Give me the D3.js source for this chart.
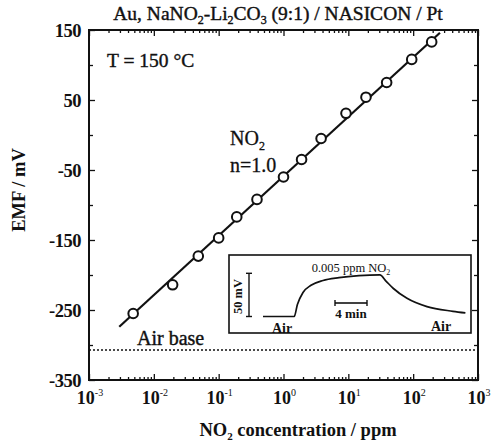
<!DOCTYPE html>
<html>
<head>
<meta charset="utf-8">
<script src="https://cdn.jsdelivr.net/npm/d3@7"></script>
<style>
  body { margin: 0; background: #fff; }
  svg text { font-family: "Liberation Serif", "DejaVu Serif", serif; fill: #111; }
</style>
</head>
<body>
<div id="chart"></div>
<script>
// measured points: NO2 concentration (ppm) and EMF (mV)
const concentration = [0.0048, 0.0195, 0.0485, 0.1, 0.19, 0.39, 1.0, 1.9, 3.8, 9.2, 18.7, 39, 95, 193];
const emf = [-255, -214, -173, -147, -117, -92, -60, -35, -5, 31, 54, 75, 108, 133];

// fitted line end points (n = 1.0)
const fitConc = [0.00293, 259];
const fitEmf = [-274, 146];

const airBase = -307;

const xTicks = [1e-3, 1e-2, 1e-1, 1e0, 1e1, 1e2, 1e3];
const xTickExp = ['-3', '-2', '-1', '0', '1', '2', '3'];
const yTicks = [150, 50, -50, -150, -250, -350];

// inset: response transient to 0.005 ppm NO2 (time in min, signal in mV above air)
const insetTime = [0, 3.9, 4.3, 5.0, 6.0, 7.5, 9.5, 12, 14.6, 15.4, 16.3, 18.0, 20.5, 23.75, 25.3];
const insetSignal = [0, 0, 15, 30, 39, 45, 48.5, 51, 52, 44, 35, 22.7, 12.3, 6.5, 4.5];

const W = 501, H = 446;
const margin = { top: 30, right: 23, bottom: 66, left: 89 };
const width = W - margin.left - margin.right;
const height = H - margin.top - margin.bottom;

const svg = d3.select('#chart').append('svg')
  .attr('width', W)
  .attr('height', H);

const g = svg.append('g')
  .attr('transform', `translate(${margin.left},${margin.top})`);

const x = d3.scaleLog().domain([1e-3, 1e3]).range([0, width]);
const y = d3.scaleLinear().domain([-350, 150]).range([height, 0]);

// minor ticks
const minorX = [];
for (let e = -3; e < 3; e++) {
  for (let m = 2; m <= 9; m++) minorX.push(m * Math.pow(10, e));
}
const minorY = d3.range(-300, 150, 100);

function tickAxis(axis, sel, size) {
  sel.call(axis.tickSize(size).tickFormat(''));
  sel.select('.domain').remove();
  sel.selectAll('line').attr('stroke', '#111').attr('stroke-width', 1.3);
}

// inward ticks on all four sides
tickAxis(d3.axisBottom(x).tickValues(xTicks), g.append('g').attr('transform', `translate(0,${height})`), -6);
tickAxis(d3.axisBottom(x).tickValues(minorX), g.append('g').attr('transform', `translate(0,${height})`), -3);
tickAxis(d3.axisTop(x).tickValues(xTicks), g.append('g'), -6);
tickAxis(d3.axisTop(x).tickValues(minorX), g.append('g'), -3);
tickAxis(d3.axisLeft(y).tickValues(yTicks), g.append('g'), -6);
tickAxis(d3.axisLeft(y).tickValues(minorY), g.append('g'), -4);
tickAxis(d3.axisRight(y).tickValues(yTicks), g.append('g').attr('transform', `translate(${width},0)`), -6);
tickAxis(d3.axisRight(y).tickValues(minorY), g.append('g').attr('transform', `translate(${width},0)`), -4);

// frame
g.append('rect')
  .attr('width', width)
  .attr('height', height)
  .attr('fill', 'none')
  .attr('stroke', '#111')
  .attr('stroke-width', 2);

// y tick labels
g.selectAll('.ylab')
  .data(yTicks)
  .enter().append('text')
  .attr('x', -8)
  .attr('y', d => y(d) + 6.5)
  .attr('text-anchor', 'end')
  .attr('font-size', 18.5)
  .attr('font-weight', 'bold')
  .attr('letter-spacing', -0.5)
  .text(d => d);

// x tick labels with exponents
const xl = g.selectAll('.xlab')
  .data(xTicks)
  .enter().append('text')
  .attr('x', (d, i) => x(d) + 1)
  .attr('y', height + 24)
  .attr('text-anchor', 'middle')
  .attr('font-size', 18)
  .attr('font-weight', 'bold');
xl.append('tspan').text('10');
xl.append('tspan')
  .attr('dy', -8)
  .attr('font-size', 10)
  .attr('font-weight', 'normal')
  .text((d, i) => xTickExp[i]);

// axis titles
const xt = svg.append('text')
  .attr('x', 298)
  .attr('y', 436)
  .attr('text-anchor', 'middle')
  .attr('font-size', 18.5)
  .attr('font-weight', 'bold');
xt.append('tspan').text('NO');
xt.append('tspan').attr('dy', 4).attr('font-size', 11).text('2');
xt.append('tspan').attr('dy', -4).text(' concentration / ppm');

svg.append('text')
  .attr('transform', 'translate(25,190) rotate(-90)')
  .attr('text-anchor', 'middle')
  .attr('font-size', 18.5)
  .attr('font-weight', 'bold')
  .text('EMF / mV');

// title
const tt = svg.append('text')
  .attr('x', 278)
  .attr('y', 20)
  .attr('text-anchor', 'middle')
  .attr('font-size', 19.5)
  .attr('stroke', '#111')
  .attr('stroke-width', 0.4);
tt.append('tspan').text('Au, NaNO');
tt.append('tspan').attr('dy', 4).attr('font-size', 12).text('2');
tt.append('tspan').attr('dy', -4).text('-Li');
tt.append('tspan').attr('dy', 4).attr('font-size', 12).text('2');
tt.append('tspan').attr('dy', -4).text('CO');
tt.append('tspan').attr('dy', 4).attr('font-size', 12).text('3');
tt.append('tspan').attr('dy', -4).text(' (9:1) / NASICON / Pt');

// air base dotted line
g.append('line')
  .attr('x1', 0).attr('x2', width)
  .attr('y1', y(airBase)).attr('y2', y(airBase))
  .attr('stroke', '#111')
  .attr('stroke-width', 1.5)
  .attr('stroke-dasharray', '2,2');

g.append('text')
  .attr('x', 48)
  .attr('y', y(airBase) - 5)
  .attr('font-size', 20)
  .attr('stroke', '#111')
  .attr('stroke-width', 0.4)
  .text('Air base');

// fit line
g.append('path')
  .datum(fitConc.map((c, i) => [c, fitEmf[i]]))
  .attr('d', d3.line().x(d => x(d[0])).y(d => y(d[1])))
  .attr('stroke', '#111')
  .attr('stroke-width', 2.2)
  .attr('fill', 'none');

// data points
g.selectAll('.pt')
  .data(concentration)
  .enter().append('circle')
  .attr('cx', d => x(d))
  .attr('cy', (d, i) => y(emf[i]))
  .attr('r', 4.8)
  .attr('fill', '#fff')
  .attr('stroke', '#111')
  .attr('stroke-width', 2);

// annotations
g.append('text')
  .attr('x', 18)
  .attr('y', 37)
  .attr('font-size', 19.5)
  .attr('stroke', '#111')
  .attr('stroke-width', 0.4)
  .text('T = 150 °C');

const no2 = g.append('text')
  .attr('x', 141)
  .attr('y', 115)
  .attr('font-size', 20)
  .attr('stroke', '#111')
  .attr('stroke-width', 0.3);
no2.append('tspan').text('NO');
no2.append('tspan').attr('dy', 5).attr('font-size', 12).text('2');

g.append('text')
  .attr('x', 141)
  .attr('y', 142)
  .attr('font-size', 20)
  .attr('stroke', '#111')
  .attr('stroke-width', 0.3)
  .text('n=1.0');

// inset
const inset = svg.append('g');
inset.append('rect')
  .attr('x', 229).attr('y', 255)
  .attr('width', 242).attr('height', 78)
  .attr('fill', '#fff')
  .attr('stroke', '#111')
  .attr('stroke-width', 1.6);

const xi = d3.scaleLinear().domain([0, 25]).range([263, 463]);
const yi = d3.scaleLinear().domain([0, 50]).range([316.5, 276.5]);

inset.append('path')
  .datum(insetTime.map((t, i) => [t, insetSignal[i]]))
  .attr('d', d3.line().x(d => xi(d[0])).y(d => yi(d[1])).curve(d3.curveMonotoneX))
  .attr('stroke', '#111')
  .attr('stroke-width', 1.7)
  .attr('fill', 'none');

// 50 mV scale bar
const bx = 249;
inset.append('line')
  .attr('x1', bx).attr('x2', bx)
  .attr('y1', yi(54)).attr('y2', yi(0))
  .attr('stroke', '#111').attr('stroke-width', 1.4);
[54, 0].forEach(v => inset.append('line')
  .attr('x1', bx - 3).attr('x2', bx + 3)
  .attr('y1', yi(v)).attr('y2', yi(v))
  .attr('stroke', '#111').attr('stroke-width', 1.4));
inset.append('text')
  .attr('transform', `translate(${bx - 7},${yi(25)}) rotate(-90)`)
  .attr('text-anchor', 'middle')
  .attr('font-size', 12.5)
  .attr('font-weight', 'bold')
  .text('50 mV');

// 4 min scale bar
const by = 303;
inset.append('line')
  .attr('x1', xi(9)).attr('x2', xi(13))
  .attr('y1', by).attr('y2', by)
  .attr('stroke', '#111').attr('stroke-width', 1.6);
[9, 13].forEach(t => inset.append('line')
  .attr('x1', xi(t)).attr('x2', xi(t))
  .attr('y1', by - 3).attr('y2', by + 3)
  .attr('stroke', '#111').attr('stroke-width', 1.4));
inset.append('text')
  .attr('x', xi(11))
  .attr('y', by + 15)
  .attr('text-anchor', 'middle')
  .attr('font-size', 13)
  .attr('font-weight', 'bold')
  .text('4 min');

const it = inset.append('text')
  .attr('x', 351)
  .attr('y', 272)
  .attr('text-anchor', 'middle')
  .attr('font-size', 12.5);
it.append('tspan').text('0.005 ppm NO');
it.append('tspan').attr('dy', 3).attr('font-size', 8).text('2');

inset.append('text')
  .attr('x', 282).attr('y', 333)
  .attr('text-anchor', 'middle')
  .attr('font-size', 14)
  .attr('font-weight', 'bold')
  .text('Air');
inset.append('text')
  .attr('x', 441).attr('y', 331)
  .attr('text-anchor', 'middle')
  .attr('font-size', 14)
  .attr('font-weight', 'bold')
  .text('Air');
</script>
</body>
</html>
